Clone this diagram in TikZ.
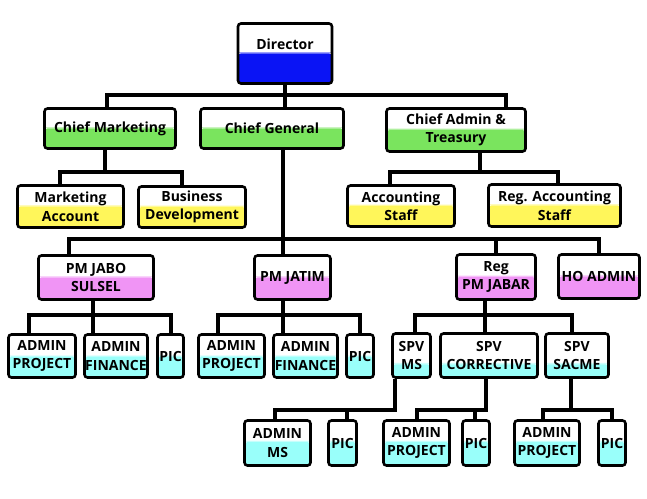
\documentclass[tikz,border=0pt]{standalone}
\usepackage{fontspec}
\setmainfont{Open Sans}
\usetikzlibrary{calc}
\definecolor{dirblue}{RGB}{10,20,245}
\definecolor{chiefgreen}{RGB}{122,228,94}
\definecolor{staffyellow}{RGB}{255,246,90}
\definecolor{pmpink}{RGB}{240,148,245}
\definecolor{admcyan}{RGB}{153,255,250}
\tikzset{
	box/.style={draw,line width=2.6pt,rounded corners=3pt,inner sep=0pt,align=center,
		font=\bfseries\fontsize{14}{18.5}\selectfont},
	paint/.style 2 args={path picture={
		\fill[#1] (path picture bounding box.south west) rectangle ($(path picture bounding box.south east)!#2!(path picture bounding box.north east)$);
		\shade[bottom color=#1,top color=white] ($(path picture bounding box.south west)!#2!(path picture bounding box.north west)$) rectangle ($(path picture bounding box.south east)!#2!(path picture bounding box.north east)+(0,2.5pt)$);}},
	wire/.style={line width=4pt}
}
\begin{document}
\begin{tikzpicture}[x=1pt,y=-1pt]
	\useasboundingbox (0,0) rectangle (647,498);
	\node[box,paint={dirblue}{0.5},minimum width=94,minimum height=60] (dir) at (285,53.5) {Director\\\mbox{}};
	\node[box,paint={chiefgreen}{0.5},minimum width=131,minimum height=40] (cm) at (110,128.5) {Chief Marketing};
	\node[box,paint={chiefgreen}{0.5},minimum width=143,minimum height=40] (cg) at (272,128.5) {Chief General};
	\node[box,paint={chiefgreen}{0.5},minimum width=139,minimum height=43] (ca) at (456,130) {Chief Admin \&\\Treasury};
	\node[box,paint={staffyellow}{0.5},minimum width=106,minimum height=42] (ma) at (70.5,206.5) {Marketing\\Account};
	\node[box,paint={staffyellow}{0.5},minimum width=107,minimum height=41] (bd) at (192,207) {Business\\Development};
	\node[box,paint={staffyellow}{0.5},minimum width=107,minimum height=41] (as) at (401,206) {Accounting\\Staff};
	\node[box,paint={staffyellow}{0.5},minimum width=132,minimum height=42] (ras) at (554.5,205.5) {Reg. Accounting\\Staff};
	\node[box,paint={pmpink}{0.5},minimum width=115,minimum height=44] (pmjs) at (96,277.5) {PM JABO\\SULSEL};
	\node[box,paint={pmpink}{0.5},minimum width=76,minimum height=44] (pmjt) at (292.5,277.5) {PM JATIM};
	\node[box,paint={pmpink}{0.5},minimum width=79,minimum height=45] (pmjb) at (496,277) {Reg\\PM JABAR};
	\node[box,paint={pmpink}{0.5},minimum width=81,minimum height=44] (ho) at (599,276.5) {HO ADMIN};
	\node[box,paint={admcyan}{0.48},minimum width=67,minimum height=43] (ap1) at (42,356) {ADMIN\\PROJECT};
	\node[box,paint={admcyan}{0.48},minimum width=63,minimum height=43] (af1) at (116,356) {ADMIN\\FINANCE};
	\node[box,paint={admcyan}{0.48},minimum width=26,minimum height=43] (pic1) at (170.5,356) {PIC};
	\node[box,paint={admcyan}{0.48},minimum width=66,minimum height=43] (ap2) at (231.5,356) {ADMIN\\PROJECT};
	\node[box,paint={admcyan}{0.48},minimum width=64,minimum height=43] (af2) at (305.5,356) {ADMIN\\FINANCE};
	\node[box,paint={admcyan}{0.48},minimum width=27,minimum height=43] (pic2) at (360,356) {PIC};
	\node[box,paint={admcyan}{0.3},minimum width=38,minimum height=44] (spvms) at (411.5,355.5) {SPV\\MS};
	\node[box,paint={admcyan}{0.3},minimum width=97,minimum height=44] (spvc) at (489,355.5) {SPV\\CORRECTIVE};
	\node[box,paint={admcyan}{0.3},minimum width=63,minimum height=44] (spvs) at (577,355.5) {SPV\\SACME};
	\node[box,paint={admcyan}{0.52},minimum width=66,minimum height=45] (adm) at (277.5,443) {ADMIN\\MS};
	\node[box,paint={admcyan}{0.52},minimum width=28,minimum height=45] (pic3) at (342.5,443) {PIC};
	\node[box,paint={admcyan}{0.52},minimum width=66,minimum height=45] (apc) at (416.5,443) {ADMIN\\PROJECT};
	\node[box,paint={admcyan}{0.52},minimum width=27,minimum height=45] (pic4) at (476,443) {PIC};
	\node[box,paint={admcyan}{0.52},minimum width=65,minimum height=45] (aps) at (547,443) {ADMIN\\PROJECT};
	\node[box,paint={admcyan}{0.52},minimum width=27,minimum height=45] (pic5) at (612,443) {PIC};
	\draw[wire] (dir.south) -- (dir.south|-cg.north);
	\draw[wire] ([xshift=-3pt]cm.north) -- ++(0,-12) -| ([xshift=50pt]ca.north);
	\draw[wire] ([xshift=-5pt]cm.south) -- ++(0,22) coordinate (cmbar);
	\draw[wire] ([xshift=-11pt]ma.north) |- (cmbar) -| ([xshift=-10pt]bd.north);
	\draw[wire] ([xshift=24pt]ca.south) -- ++(0,19) coordinate (cabar);
	\draw[wire] ([xshift=-11pt]as.north) |- (cabar) -| ([xshift=3pt]ras.north);
	\draw[wire] ([xshift=11pt]cg.south) -- ([xshift=11pt]cg.south|-pmjt.north);
	\draw[wire] ([xshift=-27pt]pmjs.north) -- ++(0,-15) coordinate (mainbar) -| (ho.north);
	\draw[wire] (pmjb.north) -- (pmjb.north|-mainbar);
	\draw[wire] ([xshift=-3pt]pmjs.south) -- ([xshift=-3pt]pmjs.south|-af1.north);
	\draw[wire] ([xshift=-13pt]ap1.north) -- ++(0,-18) -| (pic1.north);
	\draw[wire] ([xshift=-9.5pt]pmjt.south) -- ([xshift=-9.5pt]pmjt.south|-af2.north);
	\draw[wire] ([xshift=-13.5pt]ap2.north) -- ++(0,-18) -| (pic2.north);
	\draw[wire] ([xshift=-11pt]pmjb.south) -- ([xshift=-11pt]pmjb.south|-spvc.north);
	\draw[wire] ([xshift=3.5pt]spvms.north) -- ++(0,-17.5) -| ([xshift=-5pt]spvs.north);
	\draw[wire] ([xshift=-16.5pt]spvms.south) -- ++(0,31.5) coordinate (msbar) -| ([xshift=-2.5pt]adm.north);
	\draw[wire] ([xshift=4.5pt]pic3.north) -- ([xshift=4.5pt]pic3.north|-msbar);
	\draw[wire] ([xshift=-3pt]spvc.south) -- ++(0,31.5) coordinate (cbar) -| (apc.north);
	\draw[wire] ([xshift=-1pt]pic4.north) -- ([xshift=-1pt]pic4.north|-cbar);
	\draw[wire] ([xshift=-6pt]spvs.south) -- ++(0,31.5) coordinate (sbar);
	\draw[wire] ([xshift=-4pt]aps.north) |- (sbar) -| (pic5.north);
\end{tikzpicture}
\end{document}
